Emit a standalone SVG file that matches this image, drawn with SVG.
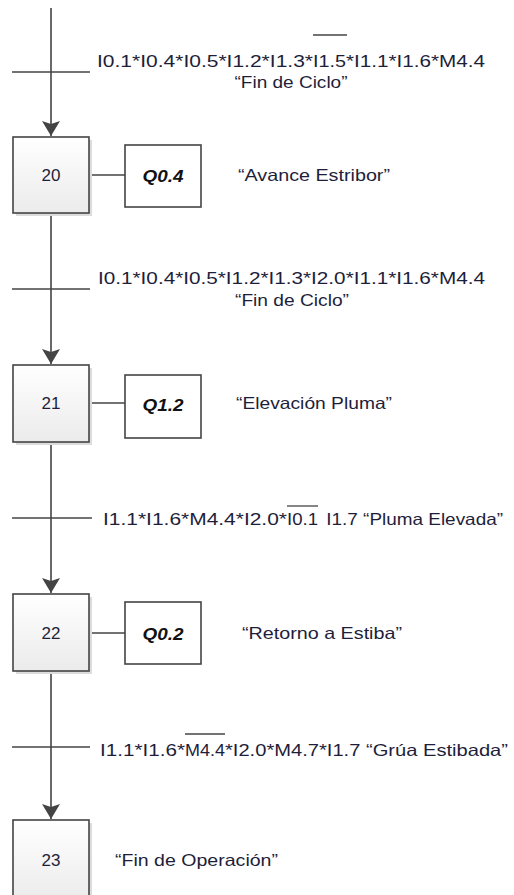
<svg xmlns="http://www.w3.org/2000/svg" width="514" height="895" viewBox="0 0 514 895">
  <style>
    .txt { font-family: "Liberation Sans", Arial, sans-serif; font-size: 16.5px; fill: #1e1e3a; }
    .num { font-family: "Liberation Sans", Arial, sans-serif; font-size: 17px; fill: #1e1e3a; text-anchor: middle; dominant-baseline: central; }
    .act { font-family: "Liberation Sans", Arial, sans-serif; font-size: 17px; font-weight: bold; font-style: italic; fill: #111; text-anchor: middle; dominant-baseline: central; }
    .desc { font-family: "Liberation Sans", Arial, sans-serif; font-size: 16.5px; fill: #1e1e3a; dominant-baseline: central; }
    .line { stroke: #444; stroke-width: 1.6; fill: none; }
    .step { fill: url(#stepFill); stroke: #444; stroke-width: 1.6; }
    .shadow { fill: #dcdcdc; }
    .action { fill: #fff; stroke: #444; stroke-width: 1.6; }
    .bar { stroke: #444; stroke-width: 1.4; }
    .over { stroke: #444; stroke-width: 1.3; }
  </style>
  <defs>
    <linearGradient id="stepFill" x1="0" y1="0" x2="0" y2="1">
      <stop offset="0" stop-color="#ffffff"/>
      <stop offset="1" stop-color="#ebebeb"/>
    </linearGradient>
    <marker id="arrow" markerWidth="16" markerHeight="18" refX="15" refY="9" orient="auto" markerUnits="userSpaceOnUse" viewBox="0 0 16 18">
      <path d="M0,0 L15,9 L0,18 L3,9 Z" fill="#444"/>
    </marker>
  </defs>

  <!-- connectors: sequence line, transition bars, action links -->
  <g id="connectors">
    <path class="line" d="M51,8 V136" marker-end="url(#arrow)"/>
    <path class="line" d="M51,213 V364" marker-end="url(#arrow)"/>
    <path class="line" d="M51,442 V593" marker-end="url(#arrow)"/>
    <path class="line" d="M51,671 V819" marker-end="url(#arrow)"/>
    <line class="bar" x1="12" y1="72" x2="90" y2="72"/>
    <line class="bar" x1="12" y1="289" x2="90" y2="289"/>
    <line class="bar" x1="12" y1="518" x2="92" y2="518"/>
    <line class="bar" x1="12" y1="747" x2="90" y2="747"/>
    <line class="line" x1="89" y1="175" x2="125" y2="175"/>
    <line class="line" x1="89" y1="403" x2="125" y2="403"/>
    <line class="line" x1="89" y1="633" x2="125" y2="633"/>
  </g>

  <!-- transition conditions (negated inputs carry an overline) -->
  <g id="transition-t1">
    <text class="txt" y="67"><tspan x="97" textLength="216" lengthAdjust="spacingAndGlyphs">I0.1*I0.4*I0.5*I1.2*I1.3*</tspan><tspan x="313" textLength="33" lengthAdjust="spacingAndGlyphs">I1.5</tspan><tspan x="346" textLength="139" lengthAdjust="spacingAndGlyphs">*I1.1*I1.6*M4.4</tspan></text>
    <line class="over" x1="313" y1="35" x2="347" y2="35"/>
    <text class="txt" x="291" y="88" text-anchor="middle" textLength="113" lengthAdjust="spacingAndGlyphs">“Fin de Ciclo”</text>
  </g>
  <g id="transition-t2">
    <text class="txt" x="98" y="284" textLength="387" lengthAdjust="spacingAndGlyphs">I0.1*I0.4*I0.5*I1.2*I1.3*I2.0*I1.1*I1.6*M4.4</text>
    <text class="txt" x="292" y="306" text-anchor="middle" textLength="114" lengthAdjust="spacingAndGlyphs">“Fin de Ciclo”</text>
  </g>
  <g id="transition-t3">
    <text class="txt" y="525"><tspan x="103" textLength="184" lengthAdjust="spacingAndGlyphs">I1.1*I1.6*M4.4*I2.0*</tspan><tspan x="287" textLength="31" lengthAdjust="spacingAndGlyphs">I0.1</tspan><tspan x="321" textLength="182" lengthAdjust="spacingAndGlyphs"> I1.7 “Pluma Elevada”</tspan></text>
    <line class="over" x1="287" y1="506" x2="318" y2="506"/>
  </g>
  <g id="transition-t4">
    <text class="txt" y="756"><tspan x="100" textLength="85" lengthAdjust="spacingAndGlyphs">I1.1*I1.6*</tspan><tspan x="185" textLength="40" lengthAdjust="spacingAndGlyphs">M4.4</tspan><tspan x="225" textLength="283" lengthAdjust="spacingAndGlyphs">*I2.0*M4.7*I1.7 “Grúa Estibada”</tspan></text>
    <line class="over" x1="185" y1="734" x2="225" y2="734"/>
  </g>

  <!-- step 20 -->
  <g id="step-20">
    <rect class="shadow" x="16" y="140" width="76" height="76"/>
    <rect class="step" x="13" y="137" width="76" height="76"/>
    <text class="num" x="51" y="175">20</text>
  </g>
  <g id="action-q04">
    <rect class="action" x="125" y="145" width="76" height="62"/>
    <text class="act" x="163" y="176" textLength="41" lengthAdjust="spacingAndGlyphs">Q0.4</text>
  </g>
  <text id="desc-20" class="desc" x="238" y="175" textLength="152" lengthAdjust="spacingAndGlyphs">“Avance Estribor”</text>

  <!-- step 21 -->
  <g id="step-21">
    <rect class="shadow" x="16" y="368" width="76" height="77"/>
    <rect class="step" x="13" y="365" width="76" height="77"/>
    <text class="num" x="51" y="403">21</text>
  </g>
  <g id="action-q12">
    <rect class="action" x="125" y="375" width="76" height="63"/>
    <text class="act" x="163" y="405" textLength="41" lengthAdjust="spacingAndGlyphs">Q1.2</text>
  </g>
  <text id="desc-21" class="desc" x="236" y="403" textLength="156" lengthAdjust="spacingAndGlyphs">“Elevación Pluma”</text>

  <!-- step 22 -->
  <g id="step-22">
    <rect class="shadow" x="16" y="597" width="76" height="77"/>
    <rect class="step" x="13" y="594" width="76" height="77"/>
    <text class="num" x="51" y="633">22</text>
  </g>
  <g id="action-q02">
    <rect class="action" x="125" y="602" width="76" height="62"/>
    <text class="act" x="163" y="634" textLength="41" lengthAdjust="spacingAndGlyphs">Q0.2</text>
  </g>
  <text id="desc-22" class="desc" x="242" y="633" textLength="160" lengthAdjust="spacingAndGlyphs">“Retorno a Estiba”</text>

  <!-- step 23 -->
  <g id="step-23">
    <rect class="shadow" x="16" y="823" width="76" height="80"/>
    <rect class="step" x="13" y="820" width="76" height="82"/>
    <text class="num" x="51" y="860">23</text>
  </g>
  <text id="desc-23" class="desc" x="115" y="860" textLength="163" lengthAdjust="spacingAndGlyphs">“Fin de Operación”</text>
</svg>
